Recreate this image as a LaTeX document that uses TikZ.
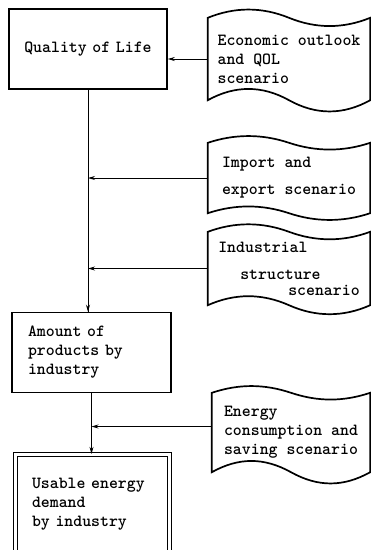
\documentclass[tikz,border=0pt]{standalone}
\usetikzlibrary{arrows.meta,positioning,calc}
\tikzset{
  txt/.style={font=\fontsize{17}{19}\selectfont\ttfamily\bfseries},
  blk/.style={txt,draw,line width=1.6pt,minimum height=80pt,text width=125pt,inner xsep=16pt,inner ysep=0pt,align=left},
  scen/.style={txt,align=left,minimum width=162pt,inner xsep=6pt,inner ysep=0pt},
  wave/.style={line width=1.7pt},
  feed/.style={->,line width=0.8pt},
}
% wavy outline round a scenario node: #2 top bend, #3 bottom bend
\newcommand\scenframe[3]{%
  \draw[wave] (#1.north west) .. controls +(27,-#2) and +(-27,-#2) .. (#1.north)
    .. controls +(27,#2) and +(-27,#2) .. (#1.north east) -- (#1.south east)
    .. controls +(-27,#3) and +(27,#3) .. (#1.south)
    .. controls +(-27,-#3) and +(27,-#3) .. (#1.south west) -- cycle;}
\begin{document}
\begin{tikzpicture}[x=1pt,y=-1pt,>={Stealth[length=7pt,width=4pt]}]
\useasboundingbox (0,0) rectangle (371,550);
\clip (0,0) rectangle (371,550);
% main chain
\node[blk,align=center,text width=142pt,inner xsep=8pt] (qol) at (88,49) {Quality of Life};
\node[blk,text width=127pt] (prod) at (91.5,352.5) {Amount of\\products by\\industry};
\node[blk,double,line width=1.2pt,double distance=2.6pt,minimum height=100pt,text width=121pt,inner xsep=16.5pt] (use) at (92.5,504.5) {Usable energy\\demand\\by industry};
% scenarios
\node[scen,minimum height=82pt] (econ) at (289,59) {Economic outlook\\and QOL\\scenario};
\node[scen,minimum height=70pt] (trade) at (289,178) {Import and\\[8pt]export scenario};
\node[scen,minimum height=73pt] (indu) at (289,268.5) {Industrial\\[8pt]\hspace*{22pt}structure\\[-3pt]\hspace*{70pt}scenario};
\node[scen,minimum width=158pt,minimum height=79pt] (ener) at (291,432.5) {Energy\\consumption and\\saving scenario};
\scenframe{econ}{11}{15}
\scenframe{trade}{9}{9}
\scenframe{indu}{10}{12}
\scenframe{ener}{9}{15}
% connectors
\draw[feed,-] (qol.south) -- (qol.south |- prod.north);
\draw[feed] ($(qol.south |- prod.north)+(0,-14)$) -- (qol.south |- prod.north);
\draw[feed] (prod.south) -- (prod.south |- use.north);
\draw[feed] (econ.west) -- (econ.west -| qol.east);
\draw[feed] (trade.west) -- (trade.west -| qol.south);
\draw[feed] (indu.west) -- (indu.west -| qol.south);
\draw[feed] ([yshift=6pt]ener.west) -- ([yshift=6pt]ener.west -| prod.south);
\end{tikzpicture}
\end{document}
